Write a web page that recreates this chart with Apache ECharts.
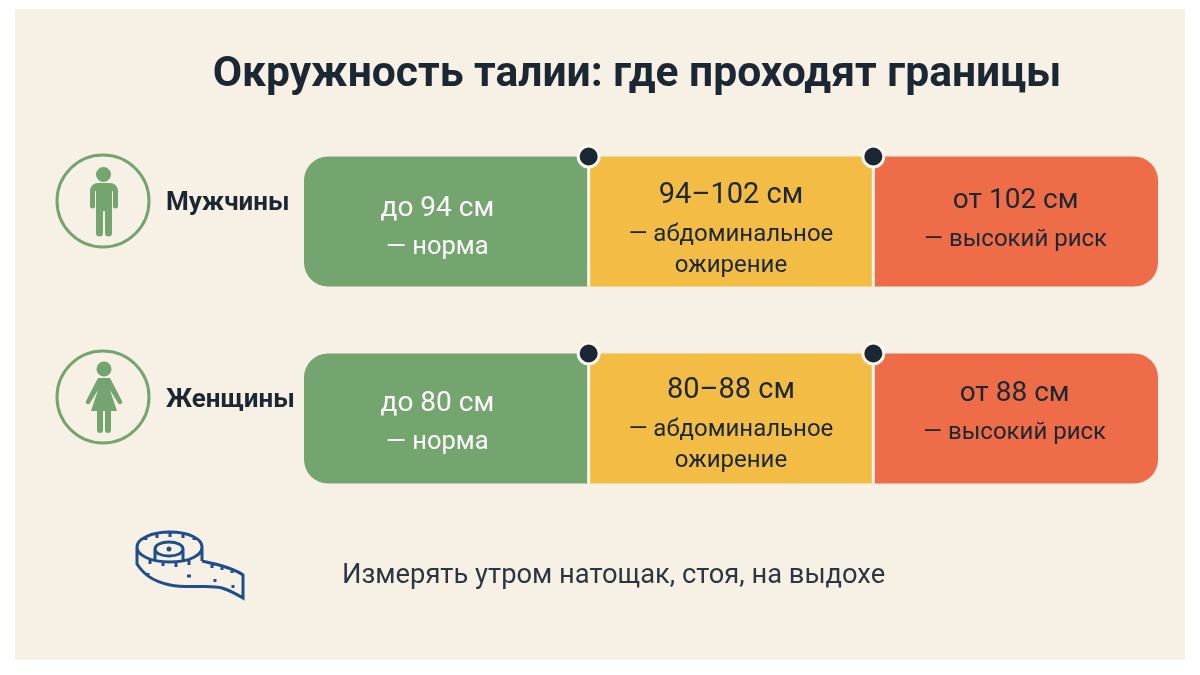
<!DOCTYPE html>
<html>
<head>
<meta charset="utf-8">
<style>html,body{margin:0;padding:0;background:#fff}#chart{width:1200px;height:675px}</style>
<script src="https://cdn.jsdelivr.net/npm/echarts@6/dist/echarts.min.js"></script>
</head>
<body>
<div id="chart"></div>
<script>
    var categories = ['Мужчины', 'Женщины'];
    // зоны нарисованы схематично: три равные части, границы подписаны текстом
    var normaWidth = [1, 1];
    var obesityWidth = [1, 1];
    var riskWidth = [1, 1];
    var boundaries = [[1, 'Мужчины'], [2, 'Мужчины'], [1, 'Женщины'], [2, 'Женщины']];
    var normaRanges = ['до 94 см', 'до 80 см'];
    var obesityRanges = ['94–102 см', '80–88 см'];
    var riskRanges = ['от 102 см', 'от 88 см'];
    var normaNote = ['— норма'];
    var obesityNote = ['— абдоминальное', 'ожирение'];
    var riskNote = ['— высокий риск'];

    var FONT = 'Roboto';
    var INK = '#1b2733';
    var GREEN = '#74a56f';
    var YELLOW = '#f2bc45';
    var ORANGE = '#ee6c48';
    var BG = '#f7f0e5';
    var EDGE = '#fbf6ee';

    // иконки
    var man = 'M103.5 167a7.5 7.5 0 1 1-.01 0zM98 183h12a8 8 0 0 1 8 8v15a2.5 2.5 0 0 1-5 0v-15h-1v42a3.5 3.5 0 0 1-7 0v-22h-2v22a3.5 3.5 0 0 1-7 0v-42h-1v15a2.5 2.5 0 0 1-5 0v-15a8 8 0 0 1 8-8z';
    var woman = 'M104 361.5a7.5 7.5 0 1 1-.01 0zM98 378h12l12 23a2 2 0 0 1-4 2l-8-13 7 21h-6v19a3 3 0 0 1-6 0v-19h-2v19a3 3 0 0 1-6 0v-19h-6l7-21-8 13a2 2 0 0 1-4-2z';
    var tape = 'M137 547c0-8 14-15 33-15s32 7 32 15c0 8-12 15-32 15s-33-7-33-15z'
        + 'M155 549c0-4 6-7 14-7s14 3 14 7-6 7-14 7-14-3-14-7zM155 549v13M183 549v13'
        + 'M137 547v17c6 9 14 17 33 21c20 4 40-1 52 3c9 3 16 7 21 10v-23c-8-6-22-10-41-14M202 547v14'
        + 'M146 536v4M157 533v5M170 532v5M183 533v5M194 536v4'
        + 'M150 559v5M163 561v5M176 562v5M189 560v5M212 563v5M222 565v5M232 568v5'
        + 'M148 573v4M187 576h4M215 579v3M233 585v3';
    echarts.graphic.registerShape('manIcon', echarts.graphic.extendPath(man, {}));
    echarts.graphic.registerShape('womanIcon', echarts.graphic.extendPath(woman, {}));
    echarts.graphic.registerShape('tapeIcon', echarts.graphic.extendPath(tape, {}));

    function zoneSeries(name, color, widths, ranges, notes, radius, labelColor, s) {
        return {
            name: name,
            type: 'bar',
            stack: 'zones',
            barWidth: 130,
            data: widths.map(function (v, i) {
                return { value: v, label: { offset: s.offsets[i] } };
            }),
            itemStyle: { color: color, borderRadius: radius },
            label: {
                show: true,
                position: 'inside',
                fontFamily: FONT,
                formatter: function (p) {
                    var lines = ['{range|' + ranges[p.dataIndex] + '}'];
                    notes.forEach(function (n) { lines.push('{note|' + n + '}'); });
                    return lines.join('\n');
                },
                rich: {
                    range: { fontFamily: FONT, fontSize: s.rangeSize, lineHeight: s.rangeLine, color: labelColor, align: 'center' },
                    note: { fontFamily: FONT, fontSize: s.noteSize, lineHeight: s.noteLine, color: labelColor, align: 'center' }
                }
            }
        };
    }

    var myChart = echarts.init(document.getElementById('chart'));
    myChart.setOption({
        animation: false,
        backgroundColor: '#ffffff',
        title: {
            text: 'Окружность талии: где проходят границы',
            left: 632,
            top: 49,
            textAlign: 'center',
            textStyle: { fontFamily: FONT, fontSize: 42.6, fontWeight: 'bold', color: INK }
        },
        grid: { left: 304, right: 42, top: 123, bottom: 158 },
        xAxis: { type: 'value', min: 0, max: 3, show: false },
        yAxis: {
            type: 'category',
            inverse: true,
            data: categories,
            axisLine: { show: false },
            axisTick: { show: false },
            axisLabel: {
                margin: 138,
                align: 'left',
                verticalAlign: 'bottom',
                lineHeight: 36,
                fontFamily: FONT,
                fontSize: 26,
                fontWeight: 'bold',
                color: INK
            }
        },
        series: [
            zoneSeries('норма', GREEN, normaWidth, normaRanges, normaNote, [24, 0, 0, 24], '#ffffff',
                { rangeSize: 28, noteSize: 25.5, rangeLine: 39, noteLine: 39, offsets: [[-9, 7], [-9, 5]] }),
            zoneSeries('абдоминальное ожирение', YELLOW, obesityWidth, obesityRanges, obesityNote, 0, INK,
                { rangeSize: 29, noteSize: 24, rangeLine: 48, noteLine: 31, offsets: [[0, 5], [0, 3]] }),
            zoneSeries('высокий риск', ORANGE, riskWidth, riskRanges, riskNote, [0, 24, 24, 0], INK,
                { rangeSize: 28, noteSize: 24, rangeLine: 39, noteLine: 39, offsets: [[0, -1], [-1, -5]] }),
            {
                type: 'scatter',
                data: boundaries,
                symbol: 'rect',
                symbolSize: [3, 130],
                itemStyle: { color: EDGE, opacity: 1 },
                z: 3
            },
            {
                type: 'scatter',
                data: boundaries,
                symbol: 'circle',
                symbolSize: 21,
                symbolOffset: [0, -65],
                itemStyle: { color: INK, borderColor: EDGE, borderWidth: 3, opacity: 1 },
                z: 4
            }
        ],
        graphic: [
            { type: 'rect', z: -10, silent: true, shape: { x: 15, y: 9, width: 1170, height: 651 }, style: { fill: BG } },
            { type: 'circle', shape: { cx: 103, cy: 201, r: 46 }, style: { fill: 'none', stroke: GREEN, lineWidth: 3 } },
            { type: 'circle', shape: { cx: 103, cy: 397, r: 46 }, style: { fill: 'none', stroke: GREEN, lineWidth: 3 } },
            { type: 'manIcon', style: { fill: GREEN } },
            { type: 'womanIcon', style: { fill: GREEN } },
            { type: 'tapeIcon', style: { fill: 'none', stroke: '#1f4e8c', lineWidth: 3 } },
            { type: 'circle', shape: { cx: 169, cy: 549, r: 2.5 }, style: { fill: '#1f4e8c' } },
            {
                type: 'text', x: 342, y: 563,
                style: { text: 'Измерять утром натощак, стоя, на выдохе', fontFamily: FONT, fontSize: 27.3, fill: '#2b3640' }
            }
        ]
    });
</script>
</body>
</html>
